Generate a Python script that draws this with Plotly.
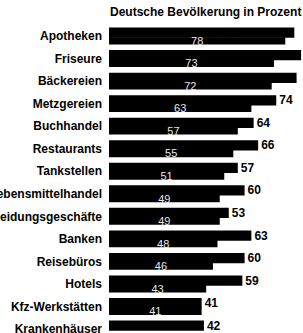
import plotly.graph_objects as go

categories = ["Apotheken", "Friseure", "Bäckereien", "Metzgereien", "Buchhandel",
              "Restaurants", "Tankstellen", "Lebensmittelhandel", "Bekleidungsgeschäfte",
              "Banken", "Reisebüros", "Hotels", "Kfz-Werkstätten", "Krankenhäuser"]
outer_values = [82, 85, 83, 74, 64, 66, 57, 60, 53, 63, 60, 59, 41, 42]
inner_values = [78, 73, 72, 63, 57, 55, 51, 49, 49, 48, 46, 43, 41, None]
# the first three outer labels lie beyond the cropped right edge in the reference
outer_labels = ["", "", "", "74", "64", "66", "57", "60", "53", "63", "60", "59", "41", "42"]
title_text = "Deutsche Bevölkerung in Prozent"

pos = list(range(len(categories)))
FONT = "Liberation Sans, Arial, sans-serif"

fig = go.Figure()
fig.add_trace(go.Bar(
    y=pos, x=outer_values, orientation="h",
    offset=-0.375, width=0.455,
    marker=dict(color="#000000", line=dict(width=0)),
    text=outer_labels, textposition="outside",
    textfont=dict(family=FONT, size=12, color="#000000", weight="bold"),
    constraintext="none", cliponaxis=False, showlegend=False, hoverinfo="skip",
))
fig.add_trace(go.Bar(
    y=pos, x=inner_values, orientation="h",
    offset=0.05, width=0.325,
    marker=dict(color="#000000", line=dict(width=0)),
    text=["" if v is None else str(v) for v in inner_values], textposition="inside",
    insidetextanchor="middle",
    textfont=dict(family=FONT, size=11, color="#e8e8e8"),
    constraintext="none", cliponaxis=False, showlegend=False, hoverinfo="skip",
))

fig.update_layout(
    width=303, height=333,
    margin=dict(l=109, r=0, t=20, b=0),
    paper_bgcolor="white", plot_bgcolor="white",
    barmode="overlay",
    xaxis=dict(range=[0, 85.84], visible=False, fixedrange=True),
    yaxis=dict(range=[13.177, -0.71], tickvals=pos, ticktext=categories,
               showgrid=False, zeroline=False, showline=False, ticks="",
               ticklabelstandoff=6, automargin=False, ticklabeloverflow="allow",
               fixedrange=True,
               tickfont=dict(family=FONT, size=12, color="#000000", weight="bold")),
    annotations=[dict(text=title_text, xref="paper", yref="paper",
                      x=-0.005, y=(333 - 12) / 313, xanchor="left", yanchor="middle",
                      showarrow=False,
                      font=dict(family=FONT, size=12, color="#000000", weight="bold"))],
    font=dict(family=FONT),
)

fig.write_html("out.html",
               config={"displayModeBar": False, "staticPlot": True},
               post_script="document.body.style.margin='0';document.body.style.overflow='hidden';")
